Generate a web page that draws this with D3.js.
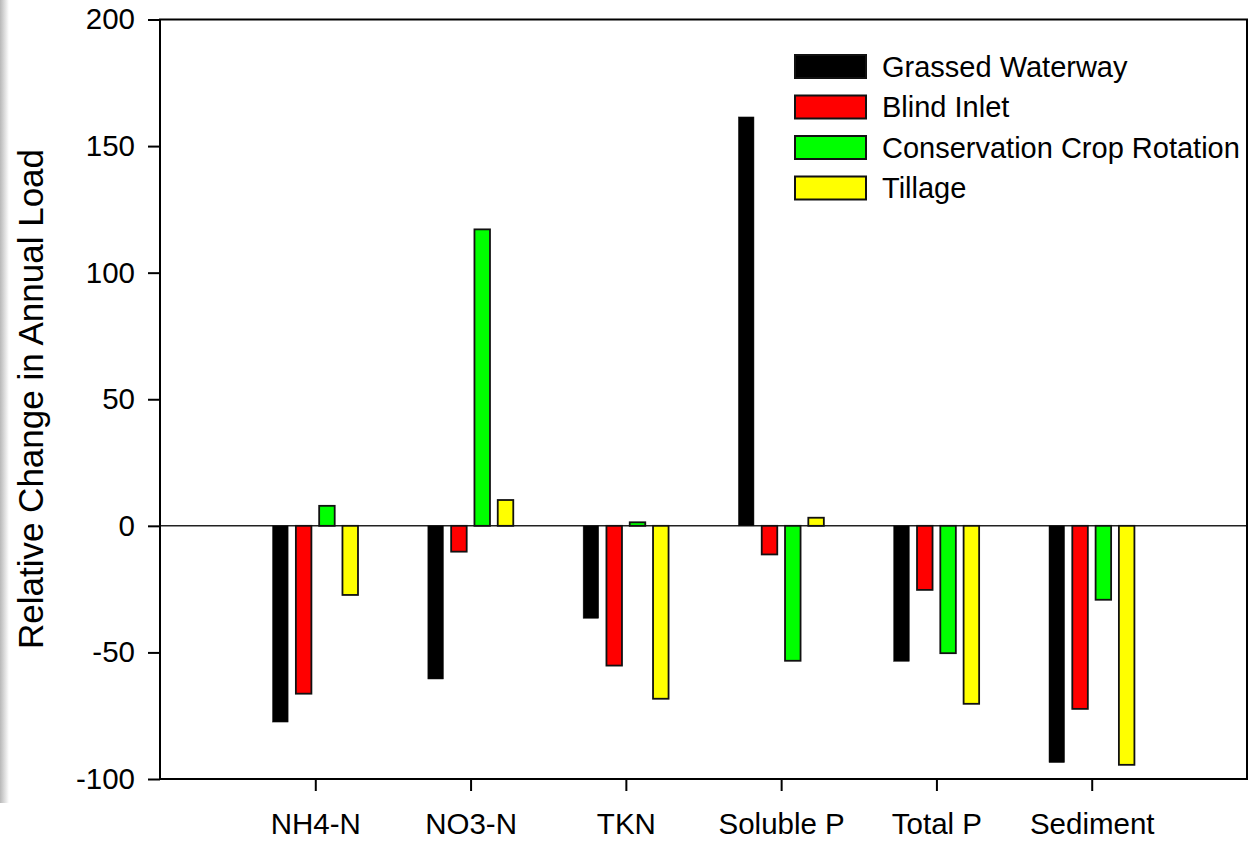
<!DOCTYPE html>
<html lang="en">
<head>
    <meta charset="UTF-8">
    <title>Relative Change in Annual Load</title>
    <script src="https://cdnjs.cloudflare.com/ajax/libs/d3/7.8.5/d3.min.js"></script>
    <style>
        body {
            margin: 0;
            background: #ffffff;
            font-family: "Liberation Sans", Arial, sans-serif;
        }
        svg { display: block; }
    </style>
</head>
<body>
    <div id="chart"></div>

    <script>
        // Data
        const categories = ["NH4-N", "NO3-N", "TKN", "Soluble P", "Total P", "Sediment"];
        const seriesNames = ["Grassed Waterway", "Blind Inlet", "Conservation Crop Rotation", "Tillage"];
        const seriesColors = ["#000000", "#ff0000", "#00ff00", "#ffff00"];
        const grassedWaterway = [-77.5, -60.5, -36.5, 161.5, -53.5, -93.5];
        const blindInlet = [-66.3, -10.2, -55.2, -11.3, -25.3, -72.3];
        const cropRotation = [7.9, 117.1, 1.4, -53.3, -50.3, -29.2];
        const tillage = [-27.3, 10.2, -68.3, 3.2, -70.3, -94.4];
        const yTicks = [-100, -50, 0, 50, 100, 150, 200];

        const series = [grassedWaterway, blindInlet, cropRotation, tillage];

        // Layout
        const width = 1252;
        const height = 841;
        const plot = { left: 160, right: 1247, top: 19.5, bottom: 779 };
        const fontSize = "29.5px";

        const svg = d3.select("#chart")
            .append("svg")
            .attr("width", width)
            .attr("height", height);

        // faint page shadow on the left edge of the scan
        const defs = svg.append("defs");
        const grad = defs.append("linearGradient")
            .attr("id", "edge")
            .attr("x1", "0").attr("x2", "1").attr("y1", "0").attr("y2", "0");
        grad.append("stop").attr("offset", "0%").attr("stop-color", "#b8b8b8");
        grad.append("stop").attr("offset", "100%").attr("stop-color", "#ffffff");
        svg.append("rect")
            .attr("x", 0).attr("y", 0)
            .attr("width", 9).attr("height", 803)
            .attr("fill", "url(#edge)");

        // Scales: categories sit at 1..6 on a 0..7 axis
        const x = d3.scaleLinear().domain([0, categories.length + 1]).range([plot.left, plot.right]);
        const y = d3.scaleLinear().domain([-100, 200]).range([plot.bottom, plot.top]);

        const barW = 0.1;
        const barStep = 0.15;

        // Zero line
        svg.append("line")
            .attr("x1", plot.left).attr("x2", plot.right)
            .attr("y1", y(0)).attr("y2", y(0))
            .attr("stroke", "#222")
            .attr("stroke-width", 1.5);

        // Bars
        series.forEach((vals, si) => {
            const off = (si - (series.length - 1) / 2) * barStep;
            svg.append("g")
                .selectAll("rect")
                .data(vals)
                .join("rect")
                .attr("x", (d, i) => x(i + 1 + off - barW / 2))
                .attr("width", x(barW) - x(0))
                .attr("y", d => y(Math.max(0, d)))
                .attr("height", d => Math.abs(y(d) - y(0)))
                .attr("fill", seriesColors[si])
                .attr("stroke", "#111")
                .attr("stroke-width", si === 0 ? 0.5 : 1.8);
        });

        // Frame
        svg.append("rect")
            .attr("x", plot.left).attr("y", plot.top)
            .attr("width", plot.right - plot.left)
            .attr("height", plot.bottom - plot.top)
            .attr("fill", "none")
            .attr("stroke", "#000")
            .attr("stroke-width", 2);

        // Y axis (plain hyphen for negatives, like the original)
        const yAxis = svg.append("g")
            .attr("transform", `translate(${plot.left},0)`)
            .call(d3.axisLeft(y).tickValues(yTicks).tickSize(12).tickPadding(13).tickFormat(d => String(d)));
        yAxis.select(".domain").remove();
        yAxis.selectAll(".tick line").attr("stroke", "#000").attr("stroke-width", 2);
        yAxis.selectAll(".tick text")
            .attr("fill", "#000")
            .style("font-family", "'Liberation Sans', Arial, sans-serif")
            .style("font-size", fontSize);

        // X axis
        const xAxis = svg.append("g")
            .attr("transform", `translate(0,${plot.bottom})`)
            .call(d3.axisBottom(x)
                .tickValues(d3.range(1, categories.length + 1))
                .tickSize(12)
                .tickPadding(22)
                .tickFormat(d => categories[d - 1]));
        xAxis.select(".domain").remove();
        xAxis.selectAll(".tick line").attr("stroke", "#000").attr("stroke-width", 2);
        xAxis.selectAll(".tick text")
            .attr("fill", "#000")
            .style("font-family", "'Liberation Sans', Arial, sans-serif")
            .style("font-size", fontSize);

        // Y axis title
        svg.append("text")
            .attr("transform", `translate(43,${(148 + 650) / 2}) rotate(-90)`)
            .attr("text-anchor", "middle")
            .style("font-size", "35px")
            .attr("fill", "#000")
            .text("Relative Change in Annual Load");

        // Legend
        const legend = svg.append("g").attr("transform", "translate(795,55)");
        const rowH = 40.5;
        seriesNames.forEach((name, i) => {
            legend.append("rect")
                .attr("x", 0).attr("y", i * rowH)
                .attr("width", 71).attr("height", 23)
                .attr("fill", seriesColors[i])
                .attr("stroke", "#111")
                .attr("stroke-width", 2);
            legend.append("text")
                .attr("x", 87).attr("y", i * rowH + 11.5)
                .attr("dy", "0.36em")
                .style("font-size", "29px")
                .attr("fill", "#000")
                .text(name);
        });
    </script>
</body>
</html>
